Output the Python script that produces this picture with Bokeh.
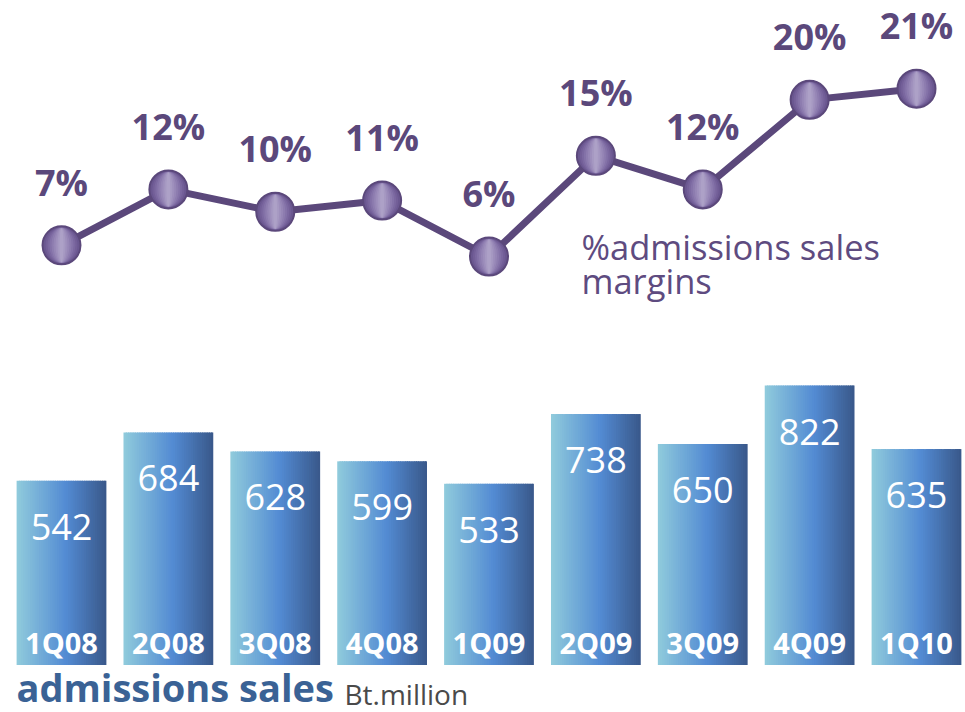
from bokeh.plotting import figure
from bokeh.models import Range1d, Label
from bokeh.embed import file_html
from bokeh.resources import INLINE
from bokeh.core.properties import value

# ---- data ----
quarters = ["1Q08", "2Q08", "3Q08", "4Q08", "1Q09", "2Q09", "3Q09", "4Q09", "1Q10"]
sales = [542, 684, 628, 599, 533, 738, 650, 822, 635]
margins = [7, 12, 10, 11, 6, 15, 12, 20, 21]
margin_labels = [f"{m}%" for m in margins]
sales_labels = [str(s) for s in sales]

FONT = "Open Sans"
PURPLE = "#5b487b"

xs = list(range(len(quarters)))

p = figure(width=965, height=712, output_backend="svg", toolbar_location=None,
           x_range=Range1d(-0.5708, 8.4585), y_range=Range1d(-139.7, 1954.4),
           min_border=0, min_border_left=0, min_border_right=0,
           min_border_top=0, min_border_bottom=0)
p.extra_y_ranges = {"line": Range1d(-34.75, 28.88)}
p.axis.visible = False
p.grid.visible = False
p.outline_line_color = None
p.background_fill_color = "white"
p.border_fill_color = "white"

# ---- gradient bars (vertical strips) ----
bw = 0.84
N = 40
stops = [(0.0, (144, 203, 220)), (0.55, (83, 139, 211)), (1.0, (57, 88, 138))]

def grad(t):
    for (t0, c0), (t1, c1) in zip(stops[:-1], stops[1:]):
        if t0 <= t <= t1:
            f = (t - t0) / (t1 - t0)
            return "#%02x%02x%02x" % tuple(int(round(a + (b - a) * f)) for a, b in zip(c0, c1))
    return "#%02x%02x%02x" % stops[-1][1]

step = bw / N
for k in range(N):
    lefts, rights, tops, bottoms = [], [], [], []
    for x, s in zip(xs, sales):
        l = x - bw / 2 + k * step
        r = min(l + step * 1.6, x + bw / 2)
        lefts.append(l); rights.append(r); tops.append(s); bottoms.append(0)
    p.quad(left=lefts, right=rights, top=tops, bottom=bottoms,
           fill_color=grad((k + 0.5) / N), line_color=None)

p.text(x=xs, y=sales, text=sales_labels, text_font=value(FONT), text_font_size="36px",
       text_color="white", text_align="center", text_baseline="middle", y_offset=46)
p.text(x=xs, y=[0] * len(xs), text=quarters, text_font=value(FONT), text_font_size="29px",
       text_font_style="bold", text_color="white", text_align="center",
       text_baseline="alphabetic", y_offset=-23)

# ---- line with markers ----
p.line(x=xs, y=margins, y_range_name="line", line_color=PURPLE, line_width=7)
p.scatter(x=xs, y=margins, y_range_name="line", size=38, marker="circle",
          fill_color="#6a5790", line_color=PURPLE, line_width=2)
layers = [(32, 35.5, "#735f98"), (28, 35.2, "#7b68a0"), (24, 35, "#8472a8"),
          (20, 34.8, "#8d7caf"), (16, 34.5, "#9686b6"), (12, 34.2, "#9e8fbc"),
          (8, 34, "#a699c2"), (4, 33.8, "#ada1c7")]
for w, h, c in layers:
    p.ellipse(x=xs, y=margins, width=w, height=h, width_units="screen", height_units="screen",
              y_range_name="line", fill_color=c, line_color=None)

p.text(x=xs, y=margins, text=margin_labels, y_range_name="line", text_font=value(FONT),
       text_font_size="36px", text_font_style="bold", text_color=PURPLE,
       text_align="center", text_baseline="middle", y_offset=-63)

# ---- annotations ----
p.add_layout(Label(x=581, y=466, x_units="screen", y_units="screen", text="%admissions sales",
                   text_font=FONT, text_font_size="34.5px", text_color="#5e4b80",
                   text_baseline="alphabetic"))
p.add_layout(Label(x=581, y=432, x_units="screen", y_units="screen", text="margins",
                   text_font=FONT, text_font_size="34.5px", text_color="#5e4b80",
                   text_baseline="alphabetic"))
p.add_layout(Label(x=16, y=26, x_units="screen", y_units="screen", text="admissions sales",
                   text_font=FONT, text_font_size="38px", text_font_style="bold",
                   text_color="#3a6295", text_baseline="alphabetic"))
p.add_layout(Label(x=344, y=19, x_units="screen", y_units="screen", text="Bt.million",
                   text_font=FONT, text_font_size="28px", text_color="#4a4a4a",
                   text_baseline="alphabetic"))

open("out.html", "w").write(file_html(p, INLINE))
